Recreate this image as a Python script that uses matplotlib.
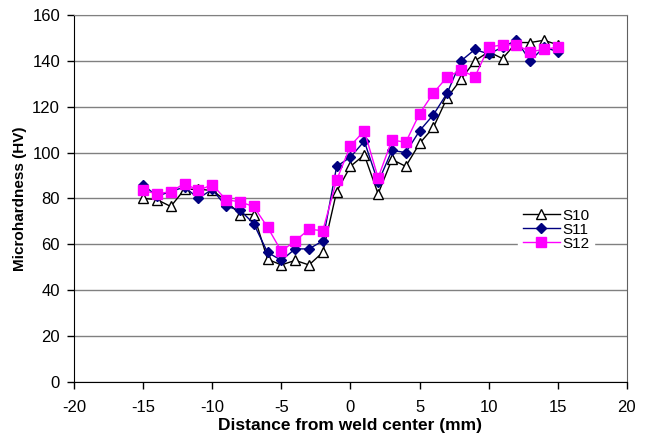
import matplotlib
matplotlib.use("Agg")
from matplotlib import pyplot as plt
from matplotlib.ticker import MultipleLocator

# distance from weld center (mm)
distance = list(range(-15, 16))

s10 = [80, 79.5, 76.5, 84, 84, 83.5, 79, 73, 73, 53.5, 51, 53, 51, 56.5, 83, 94,
       99, 82, 97, 94, 104, 111, 124, 132, 140, 144, 141, 148, 148, 149, 147]
s11 = [86, 81, 83, 85, 80, 84, 76.5, 75, 69, 56.5, 53, 58, 58, 61.5, 94, 98,
       105, 87, 101, 100, 109.5, 116.5, 126, 140, 145, 143, 146, 149, 140, 146, 144]
s12 = [83.5, 82, 83, 86.5, 83.5, 86, 79.5, 78.5, 76.5, 67.5, 57, 61.5, 66.5, 66, 88, 103,
       109.5, 89, 105.5, 104.5, 117, 126, 133, 136, 133, 146, 147, 147, 144, 145, 146]

labels = ["S10", "S11", "S12"]

plt.rcParams['font.family'] = ['Liberation Sans', 'DejaVu Sans']
plt.rcParams['axes.unicode_minus'] = False

fig = plt.figure(figsize=(6.49, 4.42), dpi=100)
ax = fig.add_axes([0.114, 0.136, 0.852, 0.830])

ax.plot(distance, s10, color='black', lw=1.0, marker='^', ms=7,
        mfc='white', mec='black', mew=1.0, label=labels[0], zorder=3)
ax.plot(distance, s11, color='#000080', lw=1.0, marker='D', ms=5,
        mfc='#000080', mec='#000080', label=labels[1], zorder=4)
ax.plot(distance, s12, color='#FF00FF', lw=1.0, marker='s', ms=6.5,
        mfc='#FF00FF', mec='#FF00FF', label=labels[2], zorder=5)

ax.set_xlim(-20, 20)
ax.set_ylim(0, 160)
ax.xaxis.set_major_locator(MultipleLocator(5))
ax.yaxis.set_major_locator(MultipleLocator(20))
ax.yaxis.grid(True, color='#808080', lw=1.0)
ax.set_axisbelow(True)

for side in ['left', 'bottom']:
    ax.spines[side].set_color('black')
ax.spines['top'].set_color('#808080')
ax.spines['right'].set_color('#606060')

ax.tick_params(axis='both', direction='out', length=5, width=1,
               labelsize=12, colors='black')
ax.tick_params(axis='x', pad=8)
ax.tick_params(axis='y', pad=5)

ax.set_xlabel('Distance from weld center (mm)', fontsize=12.5,
              fontweight='bold', labelpad=2)
ax.set_ylabel('Microhardness (HV)', fontsize=11, fontweight='bold',
              labelpad=4)

leg = ax.legend(loc='center left', bbox_to_anchor=(0.79, 0.415),
                frameon=True, fontsize=11, handlelength=2.4,
                labelspacing=0.0, borderpad=0.3, handletextpad=0.2)
leg.get_frame().set_edgecolor('white')
leg.get_frame().set_facecolor('white')
leg.get_frame().set_alpha(1.0)

plt.savefig("out.png", dpi=100)
